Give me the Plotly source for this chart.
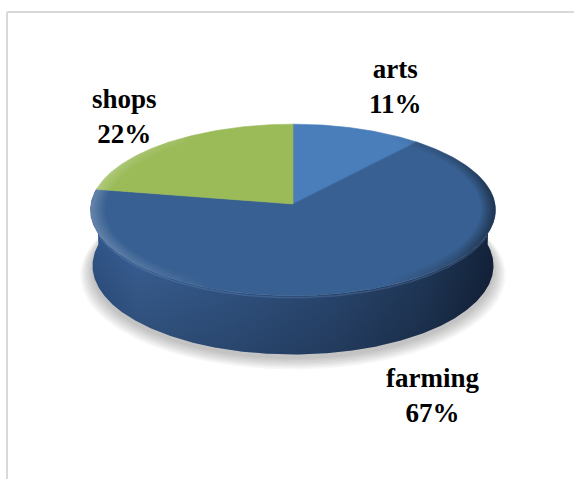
import numpy as np
import plotly.graph_objects as go

# ---- data -------------------------------------------------------------
categories = ["arts", "farming", "shops"]
values = [1, 6, 2]
slice_colors = ["#4A7EBB", "#386092", "#9BBB59"]

# ---- projected 3-D disc (coordinates are page pixels) ----------------
W, H = 574, 479
CX, CY = 293, 204          # projected centre of the top face
R = 202                    # disc radius
TILT = np.radians(25)      # viewing elevation
DIST = 13.1 * R            # camera distance for the perspective
THICK = 62                 # disc thickness


def project(theta_deg, level=0.0, radius=R):
    """Project a point of the disc; theta runs clockwise from 12 o'clock."""
    th = np.radians(np.asarray(theta_deg, dtype=float))
    X = radius * np.sin(th)
    Z = -radius * np.cos(th)            # positive toward the viewer
    up = level * np.cos(TILT) - Z * np.sin(TILT)
    depth = level * np.sin(TILT) + Z * np.cos(TILT)
    s = DIST / (DIST - depth)
    return CX + X * s, CY - up * s


total = sum(values)
shares = [v / total for v in values]
bounds = np.concatenate([[0.0], np.cumsum(shares) * 360.0])

fig = go.Figure()

# soft drop shadow under the disc
for k in range(8):
    t = np.linspace(0, 360, 361)
    sx, sy = project(t, level=-THICK, radius=R + 1 + 1.6 * k)
    fig.add_trace(go.Scatter(
        x=sx, y=sy + 4 + 0.7 * k, mode="lines", fill="toself",
        line=dict(width=0), fillcolor="rgba(0,0,0,0.03)",
        hoverinfo="skip", showlegend=False))

# visible side wall (front half of the cylinder)
t_front = np.linspace(80, 280, 401)
tx, ty = project(t_front, 0.0)
bx, by = project(t_front[::-1], -THICK)
side_x = np.concatenate([tx, bx])
side_y = np.concatenate([ty, by])
fig.add_trace(go.Scatter(
    x=side_x, y=side_y, mode="lines", fill="toself", line=dict(width=0),
    fillgradient=dict(
        type="horizontal", start=CX - R, stop=CX + R,
        colorscale=[[0.0, "#2F5487"], [0.12, "#3A6196"], [0.35, "#34598B"],
                    [0.6, "#2C4B77"], [0.82, "#213A5C"], [1.0, "#13223A"]]),
    hoverinfo="skip", showlegend=False))
# darker toward the bottom edge of the wall
fig.add_trace(go.Scatter(
    x=side_x, y=side_y, mode="lines", fill="toself", line=dict(width=0),
    fillgradient=dict(
        type="vertical", start=CY + 30, stop=CY + 150,
        colorscale=[[0.0, "rgba(0,0,0,0)"], [1.0, "rgba(0,0,0,0.22)"]]),
    hoverinfo="skip", showlegend=False))

# top face, one wedge per category
for name, c, a0, a1 in zip(categories, slice_colors, bounds[:-1], bounds[1:]):
    arc = np.linspace(a0, a1, max(int((a1 - a0) * 2), 4))
    ax_, ay_ = project(arc, 0.0)
    fig.add_trace(go.Scatter(
        x=np.concatenate([[CX], ax_, [CX]]),
        y=np.concatenate([[CY], ay_, [CY]]),
        mode="lines", fill="toself", fillcolor=c,
        line=dict(width=0.6, color=c), name=name,
        hoverinfo="skip", showlegend=False))

# rounded bevel along the rim: stacked thin rings give a soft falloff
t_bev = np.linspace(0, 360, 721)
ox, oy = project(t_bev, 0.0)
for k in range(1, 8):
    ix, iy = project(t_bev[::-1], 0.0, radius=R - 2 * k)
    fig.add_trace(go.Scatter(
        x=np.concatenate([ox, ix]), y=np.concatenate([oy, iy]),
        mode="lines", fill="toself", line=dict(width=0),
        fillgradient=dict(
            type="horizontal", start=CX - R, stop=CX + R,
            colorscale=[[0.0, "rgba(255,255,255,0.035)"],
                        [0.3, "rgba(255,255,255,0.0)"],
                        [0.72, "rgba(0,0,0,0.0)"],
                        [0.9, "rgba(0,0,0,0.035)"],
                        [1.0, "rgba(0,0,0,0.08)"]]),
        hoverinfo="skip", showlegend=False))
# faint light edge where the top meets the wall
t_rim = np.linspace(110, 250, 281)
rx_, ry_ = project(t_rim, -2.0)
fig.add_trace(go.Scatter(
    x=rx_, y=ry_, mode="lines",
    line=dict(width=1.5, color="rgba(110,150,205,0.28)"),
    hoverinfo="skip", showlegend=False))

# category labels placed off each wedge's rim
label_shift = {"arts": (38, -42), "farming": (66, 106), "shops": (-45, -25)}
for name, share, a0, a1 in zip(categories, shares, bounds[:-1], bounds[1:]):
    mx, my = project((a0 + a1) / 2, 0.0)
    dx, dy = label_shift[name]
    fig.add_annotation(
        x=float(mx) + dx, y=float(my) + dy, xref="x", yref="y",
        text=f"<b>{name}<br>{round(share * 100)}%</b>", showarrow=False,
        font=dict(family="Liberation Serif, Times New Roman, serif",
                  size=27, color="#000000"),
        align="center", xanchor="center", yanchor="middle")

# chart-area frame
fig.add_shape(type="line", x0=7, x1=W, y0=12, y1=12, xref="x", yref="y",
              line=dict(color="#D9D9D9", width=2))
fig.add_shape(type="line", x0=7, x1=7, y0=12, y1=H, xref="x", yref="y",
              line=dict(color="#D9D9D9", width=2))

fig.update_layout(
    width=W, height=H, margin=dict(l=0, r=0, t=0, b=0),
    paper_bgcolor="white", plot_bgcolor="white", showlegend=False,
    xaxis=dict(range=[0, W], visible=False, fixedrange=True),
    yaxis=dict(range=[H, 0], visible=False, fixedrange=True),
)

fig.write_html("out.html")
